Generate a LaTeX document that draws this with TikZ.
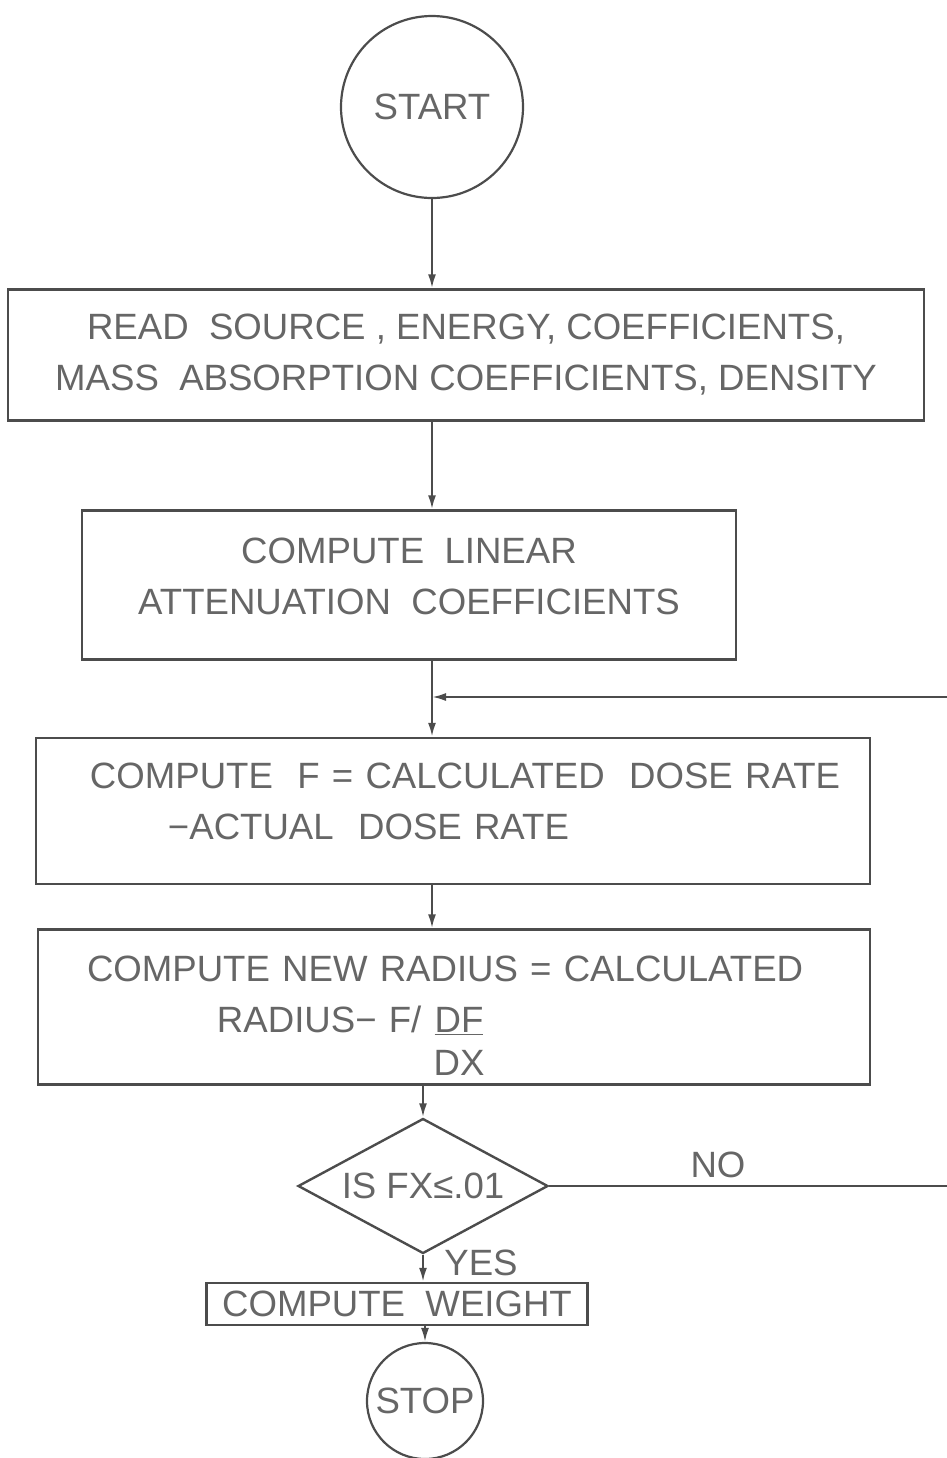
\documentclass[tikz,border=0pt]{standalone}
\usepackage{fontspec}
\setmainfont{Liberation Sans}
\usetikzlibrary{arrows.meta,shapes.geometric}
\colorlet{ink}{black!70}
\colorlet{lettering}{black!60}
\tikzset{block/.style={draw=ink, line width=1.2pt, text=lettering, align=center, inner sep=0pt},
    term/.style={circle, draw=ink, line width=1.1pt, text=lettering, inner sep=0pt},
    decide/.style={diamond, aspect=1.85, draw=ink, line width=1.2pt, text=lettering, inner sep=0pt},
    flow/.style={draw=ink, line width=1.1pt, -{Latex[length=7pt,width=4pt]}},
    tag/.style={text=lettering, inner sep=0pt}}
\begin{document}
\begin{tikzpicture}[x=0.5pt, y=-0.5pt, font=\fontsize{18.3}{25.5}\selectfont]
    \useasboundingbox (0,0) rectangle (947,1458);
    % Terminals and boxes
    \node[term, minimum size=91pt] (start) at (432,107) {START};
    \node[block, minimum width=458pt, minimum height=65.5pt] (read) at (466,355)
        {READ\ \ SOURCE , ENERGY, COEFFICIENTS,\\MASS\ \ ABSORPTION COEFFICIENTS, DENSITY};
    \node[block, minimum width=327pt, minimum height=74.5pt] (linear) at (409,585)
        {COMPUTE\ \ LINEAR\\ATTENUATION\ \ COEFFICIENTS\rule[-9pt]{0pt}{9pt}};
    \node[block, align=left, text width=363pt, minimum width=417pt, minimum height=73pt] (dose) at (453,811)
        {\mbox{COMPUTE\ \ F = CALCULATED\ \ DOSE RATE}\\\hspace*{39pt}−ACTUAL\ \ DOSE RATE\rule[-10pt]{0pt}{10pt}};
    \node[block, align=left, text width=367pt, minimum width=416pt, minimum height=77.5pt] (radius) at (454,1007)
        {\rule{0pt}{25.5pt}\mbox{COMPUTE NEW RADIUS = CALCULATED}\\\hspace*{65pt}RADIUS− F/\ \raisebox{0pt}[0pt][0pt]{\begin{tabular}[t]{@{}c@{}}\underline{DF}\\[-4pt]DX\end{tabular}}\rule[-26pt]{0pt}{26pt}};
    \node[decide, minimum width=125pt, minimum height=67.5pt] (test) at (423,1186) {IS FX≤.01};
    \node[block, minimum width=190.5pt, minimum height=21pt] (weight) at (397,1304)
        {COMPUTE\ \ WEIGHT};
    \node[term, minimum size=58pt] (stop) at (425,1401) {STOP};
    % Labels
    \node[tag] (no) at (718,1165) {NO};
    \node[tag] (yes) at (481,1263) {YES};
    % Loop ends (the return path runs off the page)
    \coordinate (noend) at (947,1186);
    \coordinate (loopin) at (947,697);
    % Connectors
    \draw[flow] (start.south) -- (read.north -| start.south);
    \draw[flow] (read.south -| start.south) -- (linear.north -| start.south);
    \draw[flow] (linear.south -| start.south) -- (dose.north -| start.south);
    \draw[flow] (dose.south -| start.south) -- (radius.north -| start.south);
    \draw[flow] (radius.south -| test.north) -- (test.north);
    \draw[flow] (test.south) -- (weight.north -| test.south);
    \draw[flow] (weight.south -| stop.north) -- (stop.north);
    \draw[draw=ink, line width=1.1pt] (test.east) -- (noend);
    \draw[flow] (loopin) -- (loopin -| start.south);
\end{tikzpicture}
\end{document}
